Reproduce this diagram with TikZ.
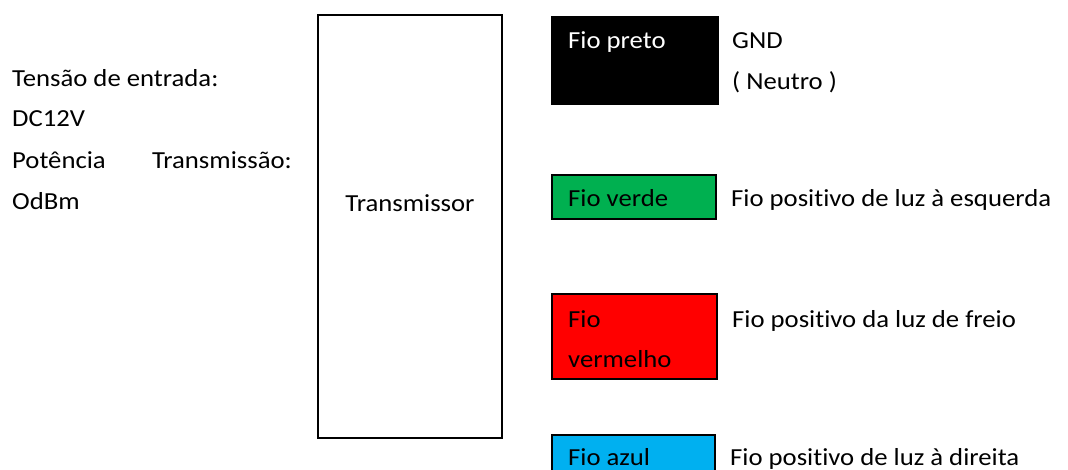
\documentclass[tikz,border=0pt]{standalone}
\usepackage{fontspec}
\setmainfont{Carlito}[Ligatures=NoCommon,FakeStretch=1.09]
\definecolor{wgreen}{RGB}{0,176,80}
\definecolor{wred}{RGB}{255,0,0}
\definecolor{wblue}{RGB}{0,176,240}
\begin{document}
\begin{tikzpicture}[x=1pt,y=-1pt,
  txt/.style={anchor=base west,inner sep=0pt,font=\fontsize{24.5}{29}\selectfont},
  wire/.style={draw=black,line width=2pt}]
\useasboundingbox (0,0) rectangle (1068,470);
% left text
\node[txt] (t1) at (12,87) {Tensão de entrada:};
\node[txt] (t2) at (12,127) {DC12V};
\node[txt] (t3) at (12,169) {Potência};
\node[txt,anchor=base east] (t4) at (292,169) {Transmissão:};
\node[txt] (t5) at (12,210) {OdBm};
% transmitter box
\draw[wire] (318,15) rectangle (502,438);
\node[txt,anchor=base] (tx) at (410,212) {Transmissor};
% wires
\draw[wire,fill=black] (552,17) rectangle (718,104);
\node[txt,text=white] (w1) at (568,49) {Fio preto};
\node[txt] (d1) at (732,49) {GND};
\node[txt] (d1b) at (732,90) {( Neutro )};
\draw[wire,fill=wgreen] (552,175) rectangle (716,219);
\node[txt] (w2) at (568,207) {Fio verde};
\node[txt] (d2) at (731,207) {Fio positivo de luz à esquerda};
\draw[wire,fill=wred] (552,294) rectangle (717,379);
\node[txt] (w3) at (568,327) {Fio};
\node[txt] (w3b) at (568,367) {vermelho};
\node[txt] (d3) at (732,327) {Fio positivo da luz de freio};
\draw[wire,fill=wblue] (552,435) rectangle (715,480);
\node[txt] (w4) at (568,465) {Fio azul};
\node[txt] (d4) at (730,465) {Fio positivo de luz à direita};
\end{tikzpicture}
\end{document}
